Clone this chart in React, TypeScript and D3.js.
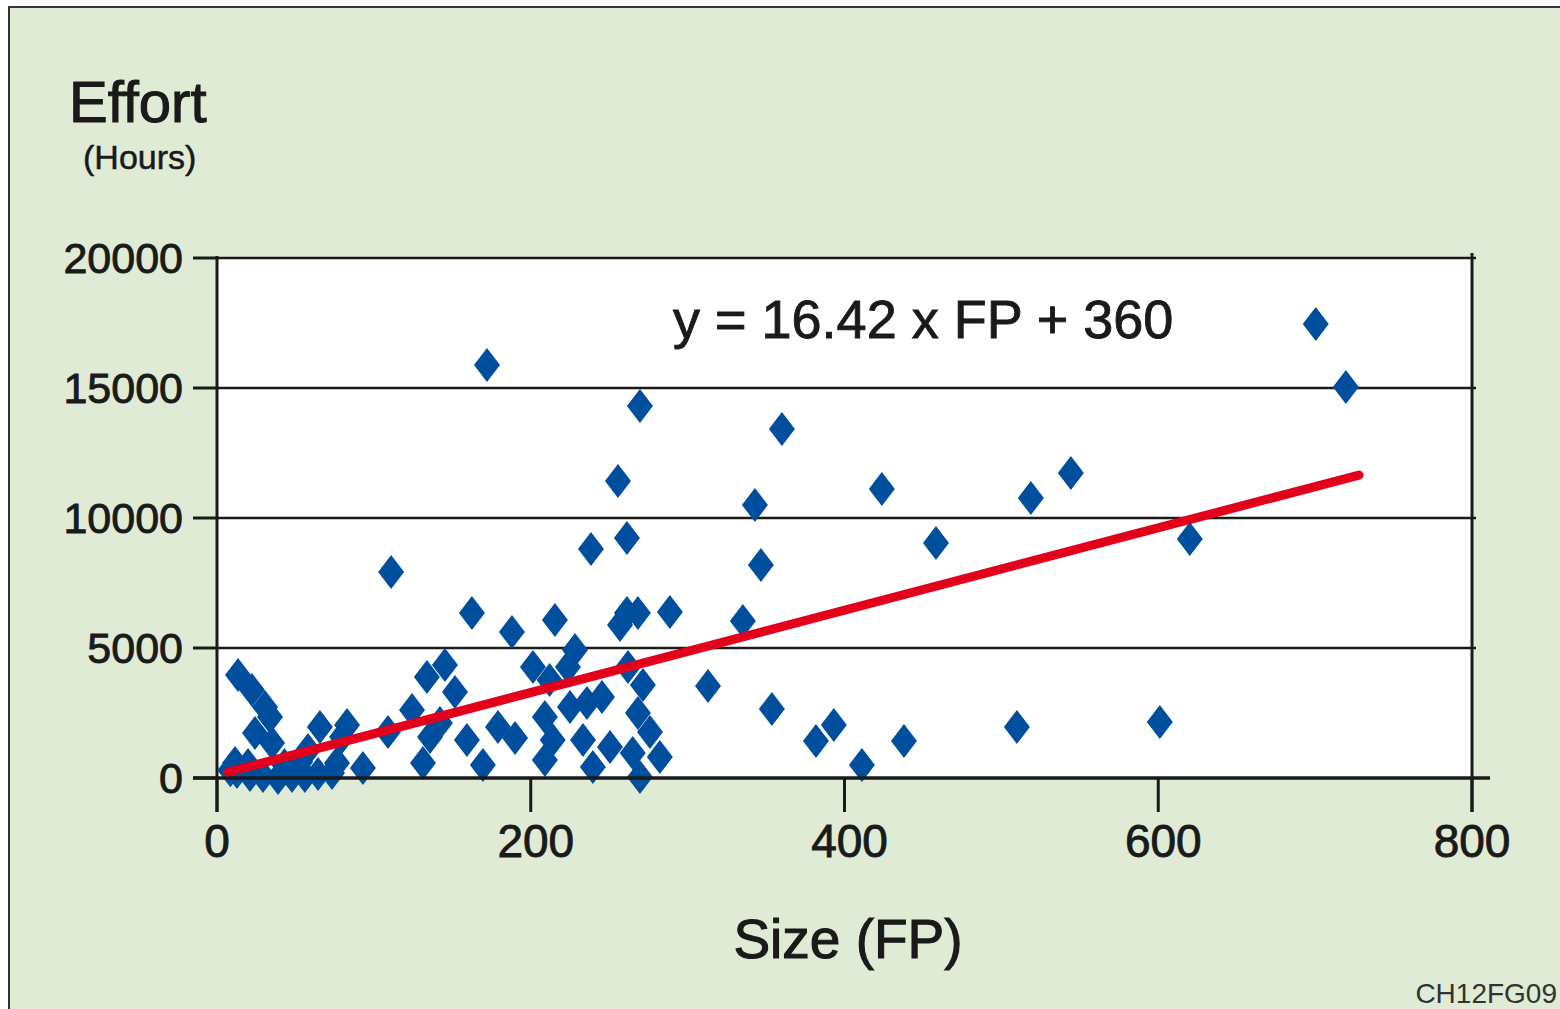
import React from "react";
import * as d3 from "d3";

const sizeFP = [
  13.4, 22.3, 30.6, 33.8, 24.2, 35.1, 11.5, 19.8, 65.6, 79.7, 58, 82.9, 76.5, 93,
  12.7, 21, 29.3, 38.9, 47.8, 56, 64.4, 73.3, 43, 53, 8.5,
  109, 111, 124.3, 133.8, 145.3, 151.7, 135.8, 142.1, 131.3, 159.3, 162.5, 172.1, 169.5,
  179.1, 190, 188, 201.4, 209, 209, 214, 212, 215.4, 223.7, 228.2, 225, 235.8, 233.3,
  239.6, 245.4, 250.5, 238.4, 255.6, 261.3, 269.6, 256.9, 261.3, 268.3, 262, 271.5,
  268.3, 276, 265, 269.6, 282.3, 288.7, 313, 335.2, 342.9, 346.7, 360.1, 353.7, 381.8,
  393.2, 411.1, 423.8, 437.9, 458.3, 509.9, 518.8, 544.3, 601, 620.1, 700.4, 719.6,
];
const effortHours = [
  3962, 3385, 2731, 2346, 1731, 1346, 577, 500, 1962, 1577, 1077, 2038, 577, 385,
  231, 115, 77, 0, 77, 77, 154, 192, 500, 615, 300,
  1769, 7923, 2615, 3885, 4346, 3308, 1577, 2115, 577, 1462, 6346, 15885, 500,
  1962, 1538, 5615, 4269, 2346, 692, 1462, 3769, 6077, 4269, 4923, 2731, 2885, 1462,
  423, 3115, 1192, 8808, 11423, 9231, 14308, 5885, 6346, 6346, 4269, 3577,
  2500, 1769, 962, 38, 808, 6385, 3538, 6038, 10500, 8192, 13423, 2654, 1423,
  2038, 500, 11115, 1423, 9038, 1962, 10769, 11731, 2154, 9192, 17462, 15038,
];

const trendFP = [7, 728];
const trendEffort = [230, 11650];

const xTicks = [0, 200, 400, 600, 800];
const yTicks = [0, 5000, 10000, 15000, 20000];
const gridValues = [5000, 10000, 15000];

const FONT = "'Liberation Sans', Arial, Helvetica, sans-serif";
const INK = "#1a1a1a";

export default function App() {
  const W = 1560;
  const H = 1009;
  const x = d3.scaleLinear().domain([0, 800]).range([217, 1472]);
  const y = d3.scaleLinear().domain([0, 20000]).range([778, 258]);
  const points = sizeFP.map((v, i) => ({ fp: v, e: effortHours[i] }));
  const diamond = (cx: number, cy: number) =>
    `M${cx},${cy - 17}L${cx + 13},${cy}L${cx},${cy + 17}L${cx - 13},${cy}Z`;
  const trend = d3
    .line<number>()
    .x((d) => x(d))
    .y((_, i) => y(trendEffort[i]))(trendFP);
  const tx = (t: number) => (t === 0 || t === 800 ? 0 : 5);
  const textStyle = { stroke: INK, strokeWidth: 0.9, fill: INK } as const;

  return (
    <svg
      width={W}
      height={H}
      style={{ position: "absolute", left: 0, top: 0, display: "block" }}
      fontFamily={FONT}
    >
      <rect x={0} y={0} width={W} height={H} fill="#ffffff" />
      <rect x={9} y={7} width={W + 20} height={H + 20} fill="#dfebd5" stroke="#333" strokeWidth={2} />
      <rect x={x(0)} y={y(20000)} width={x(800) - x(0)} height={y(0) - y(20000)} fill="#ffffff" />
      {gridValues.map((g) => (
        <line key={g} x1={x(0)} x2={x(800) + 4} y1={y(g)} y2={y(g)} stroke={INK} strokeWidth={2.5} />
      ))}
      <line x1={x(0)} x2={x(800) + 4} y1={y(20000)} y2={y(20000)} stroke={INK} strokeWidth={2.5} />
      <line x1={x(0)} x2={x(0)} y1={y(20000) - 2} y2={812} stroke={INK} strokeWidth={3} />
      <line x1={x(800)} x2={x(800)} y1={y(20000) - 5} y2={812} stroke={INK} strokeWidth={3} />
      {yTicks.map((t) => (
        <g key={t}>
          <line x1={193} x2={x(0)} y1={y(t)} y2={y(t)} stroke={INK} strokeWidth={3} />
          <text x={183} y={y(t) + 15} textAnchor="end" fontSize={43} {...textStyle}>
            {t}
          </text>
        </g>
      ))}
      {xTicks.map((t) => (
        <g key={t}>
          <line x1={x(t)} x2={x(t)} y1={y(0)} y2={812} stroke={INK} strokeWidth={3} />
          <text x={x(t) + tx(t)} y={857} textAnchor="middle" fontSize={46} {...textStyle}>
            {t}
          </text>
        </g>
      ))}
      {points.map((p, i) => (
        <path key={i} d={diamond(x(p.fp), y(p.e))} fill="#004f9f" />
      ))}
      <line x1={193} x2={1490} y1={y(0)} y2={y(0)} stroke={INK} strokeWidth={3.5} />
      <path d={trend ?? ""} fill="none" stroke="#e3001b" strokeWidth={9} strokeLinecap="round" />
      <text x={673} y={338} fontSize={54} {...textStyle}>
        y = 16.42 x FP + 360
      </text>
      <text x={69} y={122} fontSize={58} {...textStyle} strokeWidth={1.1}>
        Effort
      </text>
      <text x={83} y={169} fontSize={34} {...textStyle} strokeWidth={0.5}>
        (Hours)
      </text>
      <text x={848} y={958} textAnchor="middle" fontSize={55} {...textStyle} strokeWidth={1.1}>
        Size (FP)
      </text>
      <text x={1557} y={1003} textAnchor="end" fontSize={28} fill="#333">
        CH12FG09
      </text>
    </svg>
  );
}
